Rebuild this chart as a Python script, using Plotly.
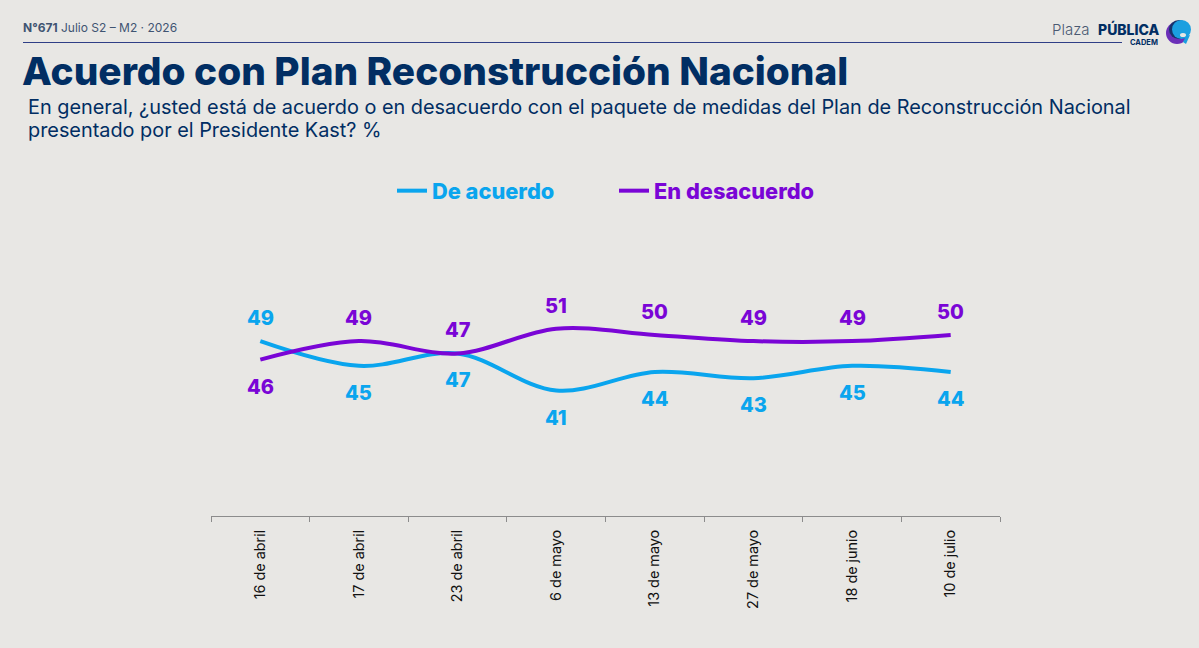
import plotly.graph_objects as go

# Survey series
fechas = ["16 de abril", "17 de abril", "23 de abril", "6 de mayo",
          "13 de mayo", "27 de mayo", "18 de junio", "10 de julio"]
de_acuerdo = [49, 45, 47, 41, 44, 43, 45, 44]
en_desacuerdo = [46, 49, 47, 51, 50, 49, 49, 50]

# Label side per point: +1 above the line, -1 below it
lado_acuerdo = [1, -1, -1, -1, -1, -1, -1, -1]
lado_desacuerdo = [-1, 1, 1, 1, 1, 1, 1, 1]

titulo = "Acuerdo con Plan Reconstrucción Nacional"
pregunta_1 = ("En general, ¿usted está de acuerdo o en desacuerdo con el paquete de medidas "
              "del Plan de Reconstrucción Nacional")
pregunta_2 = "presentado por el Presidente Kast? %"

AZUL = "#0AA5EE"
MORADO = "#7A05D6"
MARINO = "#012E63"
FONDO = "#E8E7E4"
FUENTE = "Inter"

W, H = 1199, 648
ML, MR, MT, MB = 211, 199, 207, 132


def px(x):
    return (x - ML) / (W - ML - MR)


def py(y):
    return 1 - (y - MT) / (H - MT - MB)


fig = go.Figure()
for nombre, valores, color in [("De acuerdo", de_acuerdo, AZUL),
                               ("En desacuerdo", en_desacuerdo, MORADO)]:
    fig.add_trace(go.Scatter(
        x=fechas, y=valores, mode="lines",
        name=f'<span style="color:{color}">{nombre}</span>',
        line=dict(color=color, width=4, shape="spline", smoothing=1.0),
        hoverinfo="x+y",
    ))

# Value labels sit above or below their point
anotaciones = []
for valores, lados, color in [(de_acuerdo, lado_acuerdo, AZUL),
                              (en_desacuerdo, lado_desacuerdo, MORADO)]:
    for fecha, valor, lado in zip(fechas, valores, lados):
        anotaciones.append(dict(
            x=fecha, y=valor, xref="x", yref="y", text=str(valor),
            showarrow=False, yshift=23 if lado > 0 else -27,
            font=dict(family=FUENTE, size=20, color=color, weight=800),
        ))


def texto(x, y, contenido, size, color, weight=400, xanchor="left"):
    anotaciones.append(dict(
        x=px(x), y=py(y), xref="paper", yref="paper", text=contenido, showarrow=False,
        xanchor=xanchor, yanchor="middle", align="left",
        font=dict(family=FUENTE, size=size, color=color, weight=weight),
    ))


# Header block
texto(21, 27, '<b>N°671</b> Julio S2 – M2 · 2026', 12, "#3F5472")
texto(20, 71, titulo, 38.8, MARINO, 800)
texto(26, 107, pregunta_1, 19.86, MARINO)
texto(26, 130, pregunta_2, 19.86, MARINO)

# Wordmark
texto(1050, 29, "Plaza", 15, "#4A5A72", 300)
texto(1162, 29, "PÚBLICA", 14, MARINO, 800, xanchor="right")
texto(1160, 42, "CADEM", 7.5, MARINO, 700, xanchor="right")


def blob(x0, x1, y0, y1, color):
    return dict(type="circle", xref="paper", yref="paper", x0=px(x0), x1=px(x1),
                y0=py(y1), y1=py(y0), fillcolor=color, line_width=0)


def poligono(puntos, color):
    trazo = "M " + " L ".join(f"{px(x):.5f},{py(y):.5f}" for x, y in puntos) + " Z"
    return dict(type="path", xref="paper", yref="paper", path=trazo, fillcolor=color, line_width=0)


# Header rule and logo mark
formas = [
    dict(type="line", xref="paper", yref="paper", x0=px(23), x1=px(1122), y0=py(42.5), y1=py(42.5),
         line=dict(color="#2F3F86", width=1)),
    blob(1166, 1188, 22, 44, "#6B2FB8"),
    blob(1169, 1189, 20, 39, "#17336B"),
    blob(1172, 1191, 20, 39, "#1A9FE0"),
    poligono([(1186, 36), (1190, 35), (1186, 44), (1183, 42)], "#1A9FE0"),
    blob(1180, 1186, 33, 37, FONDO),
]

fig.update_layout(
    width=W, height=H, autosize=False,
    margin=dict(l=ML, r=MR, t=MT, b=MB),
    paper_bgcolor=FONDO, plot_bgcolor=FONDO,
    font=dict(family=FUENTE, color="#111111"),
    annotations=anotaciones, shapes=formas,
    showlegend=True,
    legend=dict(
        orientation="h", x=px(392), y=py(191), xanchor="left", yanchor="middle",
        entrywidth=177, entrywidthmode="pixels", itemwidth=30,
        font=dict(family=FUENTE, size=21.8, weight=800), bgcolor="rgba(0,0,0,0)",
    ),
    xaxis=dict(
        type="category", tickmode="array", tickvals=fechas, ticktext=fechas, tickson="boundaries",
        range=[-0.5, 7.5], showgrid=False, zeroline=False,
        showline=True, linecolor="#8C8C8C", linewidth=1,
        ticks="outside", ticklen=5, tickcolor="#8C8C8C", tickwidth=1,
        tickangle=-90, ticklabelstandoff=7,
        tickfont=dict(family=FUENTE, size=14.4, color="#111111"),
    ),
    yaxis=dict(range=[20.7, 70.7], visible=False, showgrid=False, zeroline=False),
)

fig.write_html("out.html")
